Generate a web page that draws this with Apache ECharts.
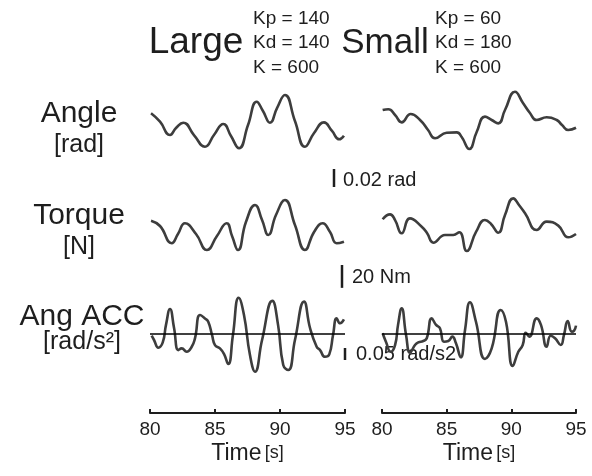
<!DOCTYPE html>
<html>
<head>
<meta charset="utf-8">
<script src="https://cdn.jsdelivr.net/npm/echarts@6/dist/echarts.min.js"></script>
<style>
  html, body { margin: 0; background: #fff; }
  #chart { width: 592px; height: 476px; }
</style>
</head>
<body>
<div id="chart"></div>
<script>
// time axis [s]
const xTicks = [80, 85, 90, 95]

// Angle [rad]
const angleLargeT = [80.08, 80.77, 81.54, 82.00, 82.56, 83.38, 84.23, 84.92, 85.64, 86.23, 86.85, 87.54, 88.21, 88.69, 89.23, 89.77, 90.38, 91.15, 91.92, 92.62, 93.38, 94.00, 94.56, 94.92]
const angleLargeV = [0.0074, -0.0019, -0.0167, -0.0089, -0.0030, -0.0167, -0.0297, -0.0167, -0.0044, -0.0178, -0.0314, -0.0056, 0.0203, 0.0100, -0.0030, 0.0133, 0.0278, -0.0011, -0.0297, -0.0144, -0.0026, -0.0122, -0.0214, -0.0174]
const angleSmallT = [80.05, 80.49, 81.01, 81.52, 82.22, 82.94, 83.56, 84.10, 85.00, 85.78, 86.16, 86.75, 87.32, 87.96, 88.48, 88.99, 89.51, 90.28, 90.90, 91.44, 91.96, 92.73, 93.51, 93.92, 94.40, 95.00]
const angleSmallV = [0.0111, 0.0119, 0.0056, -0.0026, 0.0067, 0.0000, -0.0111, -0.0203, -0.0141, -0.0137, -0.0189, -0.0322, -0.0133, 0.0037, 0.0000, -0.0037, 0.0111, 0.0314, 0.0189, 0.0078, 0.0000, 0.0030, 0.0000, -0.0056, -0.0111, -0.0086]

// Torque [Nm]
const torqueLargeT = [80.08, 80.77, 81.67, 82.15, 82.69, 83.54, 84.38, 85.15, 85.90, 86.31, 86.77, 87.38, 88.08, 88.62, 89.10, 89.69, 90.38, 91.15, 91.92, 92.62, 93.28, 93.85, 94.36, 94.92]
const torqueLargeV = [1.1, -3.5, -18.6, -10.5, -1.1, -10.5, -24.5, -12.2, -1.1, -12.2, -24.5, 0, 14.9, 1.7, -11.4, 6.1, 19.2, -2.6, -24.5, -8.7, -1.1, -8.7, -18.6, -17.2]
const torqueSmallT = [80.05, 80.62, 81.01, 81.52, 82.16, 83.07, 83.48, 83.97, 84.87, 85.51, 85.98, 86.55, 87.27, 87.96, 88.43, 88.99, 89.51, 90.15, 90.59, 91.06, 91.96, 92.73, 93.63, 94.40, 95.00]
const torqueSmallV = [2.4, 6.7, 1.7, -9.9, 3.2, -4.1, -9.6, -18.1, -11.4, -11.4, -9.0, -25.4, -8.7, 1.7, -1.7, -9.4, 6.1, 20.7, 14.9, 7.6, -7.0, 0.3, -3.2, -13.4, -10.5]

// Angular acceleration [rad/s^2]
const accLargeT = [80.13, 80.31, 80.64, 80.98, 81.23, 81.54, 81.85, 82.18, 82.44, 82.82, 83.21, 83.46, 83.85, 84.23, 84.48, 84.77, 85.00, 85.38, 85.69, 86.02, 86.38, 86.82, 87.23, 87.69, 88.08, 88.62, 89.41, 89.85, 90.25, 90.64, 91.15, 91.85, 92.31, 92.82, 93.08, 93.46, 93.79, 94.08, 94.36, 94.62, 94.92]
const accLargeV = [-0.007, -0.025, -0.057, -0.035, 0.038, 0.104, 0.025, -0.067, -0.060, -0.074, -0.053, -0.018, 0.079, 0.065, 0.051, -0.004, -0.046, -0.060, -0.083, -0.125, -0.004, 0.151, 0.079, -0.088, -0.157, -0.025, 0.138, 0.038, -0.129, -0.150, -0.025, 0.135, 0.025, -0.053, -0.067, -0.095, -0.085, -0.004, 0.065, 0.045, 0.061]
const accSmallT = [80.05, 80.31, 80.67, 81.01, 81.24, 81.52, 81.86, 82.17, 82.55, 82.81, 83.19, 83.46, 83.84, 84.18, 84.48, 84.79, 85.13, 85.44, 85.72, 86.09, 86.42, 86.80, 87.27, 87.96, 88.48, 89.18, 89.59, 90.11, 90.54, 90.88, 91.11, 91.39, 91.96, 92.29, 92.73, 93.04, 93.38, 93.82, 94.07, 94.36, 94.67, 94.85, 95.00]
const accSmallV = [0.003, -0.033, -0.074, -0.046, 0.038, 0.107, -0.004, -0.078, -0.046, -0.035, -0.029, -0.018, 0.065, 0.038, 0.024, -0.032, -0.029, -0.011, -0.039, -0.097, 0.017, 0.132, 0.050, -0.104, -0.060, 0.100, 0.050, -0.133, -0.074, -0.046, 0.005, -0.011, 0.065, 0.038, -0.053, -0.007, -0.018, -0.046, -0.004, 0.054, 0.010, 0.014, 0.035]

// scale bars
const scaleAngle = 0.02
const scaleTorque = 20
const scaleAcc = 0.05

const zip = (t, v) => t.map((x, i) => [x, v[i]])

const font = '"Liberation Sans", Arial, Helvetica, sans-serif'
const ink = '#1e1e1e'
const lineColor = '#3d3d3d'

// panel rows: angle, torque, acc ; columns: large, small
const rows = [
  { top: 84, height: 72, min: -0.04, max: 0.04 },
  { top: 190, height: 64, min: -28, max: 28 },
  { top: 292, height: 84, min: -0.175, max: 0.175 }
]
const cols = [
  { left: 150, width: 195 },
  { left: 382, width: 194 }
]

const seriesData = [
  [zip(angleLargeT, angleLargeV), zip(angleSmallT, angleSmallV)],
  [zip(torqueLargeT, torqueLargeV), zip(torqueSmallT, torqueSmallV)],
  [zip(accLargeT, accLargeV), zip(accSmallT, accSmallV)]
]

const grid = []
const xAxis = []
const yAxis = []
const series = []

rows.forEach((r, ri) => {
  cols.forEach((c, ci) => {
    const idx = grid.length
    const isBottom = ri === 2
    grid.push({ left: c.left, width: c.width, top: r.top, height: r.height })
    xAxis.push({
      gridIndex: idx,
      type: 'value',
      min: xTicks[0],
      max: xTicks[xTicks.length - 1],
      interval: xTicks[1] - xTicks[0],
      show: isBottom,
      position: 'bottom',
      offset: 37,
      splitLine: { show: false },
      axisLine: { show: true, onZero: false, lineStyle: { color: ink, width: 2 } },
      axisTick: { show: true, inside: true, length: 4, lineStyle: { color: ink, width: 2 } },
      axisLabel: { fontSize: 19, color: ink, fontFamily: font, margin: 7 },
      name: '{a|Time} {b|[s]}',
      nameLocation: 'middle',
      nameGap: 29,
      nameTextStyle: {
        rich: {
          a: { fontSize: 23, color: ink, fontFamily: font },
          b: { fontSize: 18, color: ink, fontFamily: font }
        }
      }
    })
    yAxis.push({
      gridIndex: idx,
      type: 'value',
      min: r.min,
      max: r.max,
      show: false,
      splitLine: { show: false }
    })
    const s = {
      type: 'line',
      xAxisIndex: idx,
      yAxisIndex: idx,
      data: seriesData[ri][ci],
      showSymbol: false,
      smooth: 0.5,
      lineStyle: { color: lineColor, width: 2.6 },
      animation: false
    }
    if (isBottom) {
      s.markLine = {
        silent: true,
        symbol: 'none',
        label: { show: false },
        lineStyle: { color: '#000', width: 1.5, type: 'solid' },
        data: [{ yAxis: 0 }]
      }
    }
    series.push(s)
  })
})

function txt(text, x, y, size, align) {
  return {
    type: 'text',
    x: x,
    y: y,
    style: {
      text: text,
      fontSize: size,
      fontFamily: font,
      fill: ink,
      align: align || 'left',
      verticalAlign: 'middle'
    }
  }
}

const labels = [
  txt('Large', 196, 43, 37, 'center'),
  txt('Kp = 140', 253, 19, 19),
  txt('Kd = 140', 253, 43, 19),
  txt('K = 600', 253, 68, 19),
  txt('Small', 385, 43, 35, 'center'),
  txt('Kp = 60', 435, 19, 19),
  txt('Kd = 180', 435, 43, 19),
  txt('K = 600', 435, 68, 19),
  txt('Angle', 79, 114, 30, 'center'),
  txt('[rad]', 79, 145, 25, 'center'),
  txt('Torque', 79, 216, 30, 'center'),
  txt('[N]', 79, 247, 25, 'center'),
  txt('Ang ACC', 82, 317, 30, 'center'),
  txt('[rad/s²]', 82, 342, 25, 'center'),
  txt('0.02 rad', 343, 180, 20),
  txt('20 Nm', 352, 277, 20),
  txt('0.05 rad/s2', 356, 354, 20)
]

const chart = echarts.init(document.getElementById('chart'))
chart.setOption({
  backgroundColor: '#fff',
  animation: false,
  grid, xAxis, yAxis, series,
  graphic: labels
})

// scale bars, length taken from each row's y scale
function bar(yAxisIndex, value, x, top) {
  const p0 = chart.convertToPixel({ yAxisIndex }, 0)
  const p1 = chart.convertToPixel({ yAxisIndex }, value)
  const len = Math.abs(p0 - p1)
  return {
    type: 'line',
    shape: { x1: x, y1: top, x2: x, y2: top + len },
    style: { stroke: ink, lineWidth: 2.5 }
  }
}
chart.setOption({
  graphic: labels.concat([
    bar(0, scaleAngle, 334, 169),
    bar(2, scaleTorque, 342, 265),
    bar(4, scaleAcc, 345, 348)
  ])
})
</script>
</body>
</html>
